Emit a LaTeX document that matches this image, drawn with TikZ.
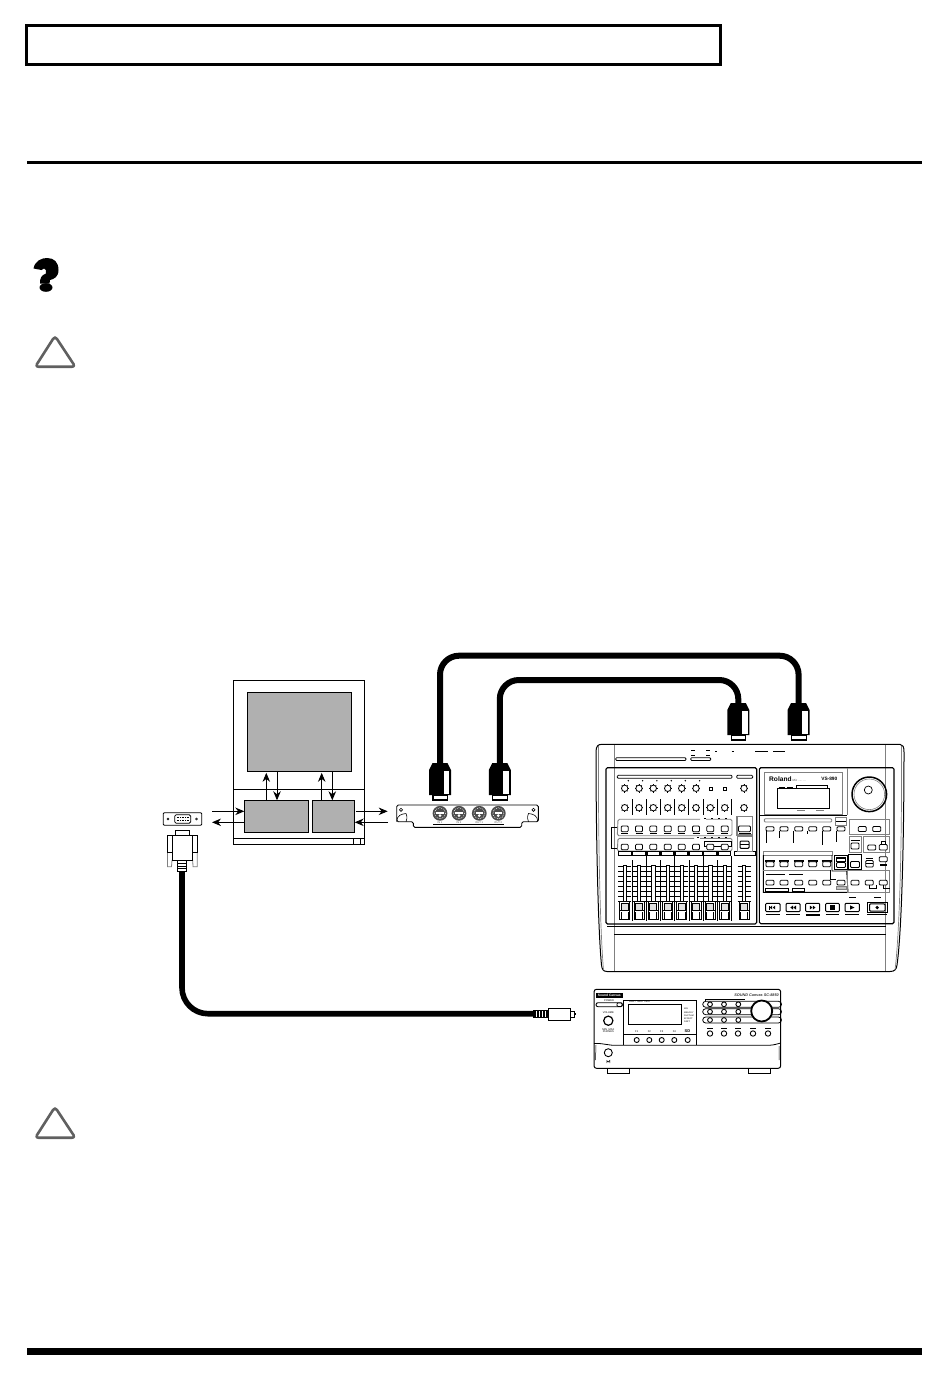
\documentclass[tikz,border=0pt]{standalone}
\usepackage{fontspec}
\setmainfont{Liberation Sans}
\usetikzlibrary{arrows.meta,calc}
\definecolor{panelgray}{HTML}{B0B0B0}
\definecolor{midgray}{HTML}{808080}
\definecolor{warngray}{HTML}{606060}
\newcommand{\tinytxt}[1]{\fontsize{2.6}{3}\selectfont #1}
\tikzset{
 thin line/.style={line width=0.8pt,draw=black},
 hair/.style={line width=0.6pt,draw=black},
 gline/.style={line width=0.9pt,draw=midgray},
 grayblock/.style={draw=black,line width=1.1pt,fill=panelgray,inner sep=0pt,outer sep=0pt},
 flow/.style={line width=0.9pt,draw=black,-{Stealth[length=9pt,width=7.5pt]}},
 cableline/.style={line width=6pt,draw=black,line cap=butt},
 warntri/.style={draw=warngray,line width=2.6pt,line join=round},
 heavy/.style={fill=black,draw=none},
 btn/.style={draw=black,line width=0.8pt,fill=white,rounded corners=1pt},
 plugpic/.pic={
   \coordinate (-top) at (0,0);
   \fill[black] (-7.5,0) -- (7.5,0) -- (11,7) -- (11,32) -- (-11,32) -- (-11,7) -- cycle;
   \fill[white] (3.6,7.5) rectangle (9.4,31);
   \draw[line width=1.2pt,fill=white] (-7,32) rectangle (7.5,37);
 },
 gknob/.pic={
   \draw[line width=0.8pt] (0,0) circle[radius=3.2];
   \foreach \a in {0,45,...,315}{\draw[line width=0.6pt] (\a:3.2) -- (\a:4.2);}
 },
}
\begin{document}
\begin{tikzpicture}[x=1pt,y=-1pt]
\fill[white] (0,0) rectangle (950,1379);
\useasboundingbox (0,0) rectangle (950,1379);

% page furniture
\draw[line width=3pt] (26.5,25.5) rectangle (720.5,64.5);
\fill[black] (27,160.7) rectangle (922,164);
\fill[black] (27,1348) rectangle (922,1355);

% question mark
\fill[black] (33.5,268.5) .. controls (35,260.5) and (42,258) .. (47,258)
  .. controls (54,258) and (58.5,262) .. (58.5,270)
  .. controls (58.5,277) and (54,279) .. (50,280)
  .. controls (49.5,281) and (49.5,282) .. (49.5,283.5) -- (40,283.5)
  .. controls (40,278) and (41,275.5) .. (46,273.5)
  .. controls (46.5,271) and (46,268.5) .. (44,268.5)
  .. controls (42.5,268.5) and (42,269) .. (41.5,270) -- cycle;
\fill[black] (46,287.5) ellipse[x radius=6.5,y radius=4.3];

% warning triangles
\foreach \dy in {0,771}{
  \draw[warntri,yshift=-\dy pt] (55,337.5) .. controls (56,337.5) and (56,338) .. (57,339) -- (73.5,364)
    .. controls (74.5,366) and (74,366.7) .. (72,366.7) -- (38.5,366.7)
    .. controls (36.5,366.7) and (36,366) .. (37,364) -- (53,339) .. controls (54,338) and (54,337.5) .. (55,337.5) -- cycle;
}

% ---- interface block diagram
\node[draw=black,line width=1pt,inner sep=0pt,outer sep=0pt,minimum width=131.4pt,minimum height=164pt] (case) at (299,762.3) {};
\node[grayblock,minimum width=104.4pt,minimum height=79pt] (screen) at (299.5,731.8) {};
\node[grayblock,minimum width=64.4pt,minimum height=32pt] (blockA) at (276.5,816.3) {};
\node[grayblock,minimum width=42.4pt,minimum height=32pt] (blockB) at (333.5,816.3) {};
\draw[line width=1.6pt] (233.3,789.3) -- (364.7,789.3);
\draw[line width=1pt] (233.3,838.3) -- (364.7,838.3);
\draw[line width=1pt] (353.3,838.3) rectangle (360.7,844.3);

\coordinate (u1) at (266.3,0); \coordinate (d1) at (277,0);
\coordinate (u2) at (321.7,0); \coordinate (d2) at (332.3,0);
\draw[flow,shorten >=1.5pt] (blockA.north -| u1) -- (screen.south -| u1);
\draw[flow,shorten <=1pt] (screen.south -| d1) -- (blockA.north -| d1);
\draw[flow,shorten >=1.5pt] (blockB.north -| u2) -- (screen.south -| u2);
\draw[flow,shorten <=1pt] (screen.south -| d2) -- (blockB.north -| d2);

\coordinate (lin) at (212,811.3);  \coordinate (lout) at (212,822.3);
\coordinate (rout) at (387.7,811.3); \coordinate (rin) at (388,822.3);
\draw[flow] (lin) -- (lin -| blockA.west);
\draw[flow] (lout -| blockA.west) -- (lout);
\draw[flow,shorten <=1pt] (rout -| blockB.east) -- (rout);
\draw[flow] (rin) -- (rin -| blockB.east);

% serial plate
\node[draw=black,line width=0.8pt,rounded corners=1pt,fill=white,inner sep=0pt,minimum width=38.4pt,minimum height=12.6pt] (plate) at (182.5,819) {};
\draw[line width=0.8pt,rounded corners=1.5pt,fill=white] (174.7,814.7) rectangle (190.7,823.3);
\foreach \y in {817.3,820.3}{\draw[line width=1pt,dash pattern=on 1pt off .7pt] (176.5,\y) -- (189,\y);}
\draw[line width=.6pt] (168,819) circle[radius=1];
\draw[line width=.6pt] (196.5,819) circle[radius=1];

% DB9 connector
\draw[line width=.8pt,fill=white] (175,830) rectangle (189,836);
\draw[midgray,line width=.8pt] (167.5,852) -- (167.5,866.7) -- (171.5,866.7) -- (172,860);
\draw[midgray,line width=.8pt] (197.3,852) -- (197.3,866.7) -- (193,866.7) -- (192.7,860);
\draw[line width=1pt,fill=white] (167.3,835.3) rectangle (197.3,852.7);
\draw[line width=1pt,fill=white] (172.3,835.3) rectangle (192.7,860.3);
\draw[line width=1pt,fill=white] (177.3,860.3) rectangle (186.3,871.7);
\foreach \y in {863.5,866,868.5}{\draw[line width=.9pt] (177.3,\y) -- (186.3,\y);}
\coordinate (dbout) at (182,871.7);

% serial S-plug
\coordinate (splug) at (533,1013.7);
\fill[black] (533,1009.5) rectangle (548,1018);
\foreach \x in {535.5,538.5,541.5,544.5}{\fill[white] (\x,1010.5) rectangle (\x+.9,1017);}
\draw[line width=.9pt,fill=white] (548,1008) rectangle (570,1020.7);
\draw[line width=.9pt,fill=white] (570,1011) rectangle (574,1017);
\fill[black] (573.5,1013) rectangle (576,1014.6);
\draw[cableline,line width=5.6pt,rounded corners=26pt] (dbout) |- (splug);

% ---- expansion card
\draw[line width=.9pt,fill=white,rounded corners=1.5pt] (396.7,805) -- (538.3,805) -- (538.3,821.7) -- (521.7,821.7) -- (521.7,827.3) -- (413.3,827.3) -- (413.3,821.7) -- (396.7,821.7) -- cycle;
\foreach \x [count=\i] in {440,459,479.3,498.3}{
  \fill[black!70] (\x,813.3) circle[radius=7.4];
  \fill[white] (\x-3.8,811.6) rectangle (\x+3.8,814);
  \fill[white] (\x,815.6) circle[radius=1.5];
  \draw[white,line width=.5pt,dash pattern=on .8pt off 1pt] (\x,813.3) circle[radius=5.6];
}
\foreach \x/\t in {440/IN 1,459/IN 2,479.3/OUT 1,498.3/OUT 2}{
  \node[inner sep=0pt,text=black!70] (cardlab\x) at (\x,822.5) {\tinytxt{\t}};
}
\draw[line width=.7pt] (433,824.7) -- (504,824.7);
\foreach \x/\s in {401/1,533.5/-1}{
  \draw[line width=.6pt] (\x,809.8) circle[radius=1.6];
  \draw[line width=.6pt] (\x-\s*4.3,821.7) .. controls (\x-\s*4.3,815) and (\x+\s*1,814) .. (\x+\s*5,813.5) .. controls (\x+\s*6.5,817) and (\x+\s*6,820) .. (\x+\s*5,821.7);
}

% ---- main mixer
\draw[line width=1pt,fill=white] (596,752) .. controls (596,746) and (598,744.3) .. (602,744.3) -- (900,744.3)
  .. controls (903,744.3) and (904,747) .. (904,752) .. controls (904,830) and (902,930) .. (897,965)
  .. controls (896.5,969) and (895,971.5) .. (890,971.5) -- (607,971.5)
  .. controls (603,971.5) and (602,969) .. (601.5,965) .. controls (598,930) and (596,830) .. (596,752) -- cycle;
\draw[midgray,line width=.7pt] (598.5,746) .. controls (598,830) and (600,930) .. (603.5,970);
\draw[midgray,line width=.7pt] (901.5,746) .. controls (902,830) and (900,930) .. (895,970);
\draw[midgray,line width=1.2pt] (614.3,745) -- (614.3,971);
\draw[midgray,line width=1.2pt] (885.7,745) -- (885.7,971);
\draw[line width=.8pt,fill=white,rounded corners=1pt] (615.7,757.7) rectangle (686,760.5);
\draw[line width=.8pt,fill=white,rounded corners=1pt] (690.7,757.7) rectangle (710.7,760.5);
\foreach \a/\b in {691/695.3,706/710}{
  \draw[line width=.7pt] (\a,750.7) -- (\b,750.7);
  \draw[line width=.7pt] (\a,755) -- (\b,755);
}
\foreach \a/\b in {715/717,731.7/734.3,755/768,773/785}{\draw[line width=.8pt] (\a,751) -- (\b,751);}
\draw[line width=.9pt] (607,926.5) -- (886,926.5);
\draw[line width=.9pt] (614,934) -- (886,934);

% left panel
\draw[line width=1.1pt,rounded corners=1.5pt] (606,767.7) rectangle (756.7,924);
\draw[line width=.8pt,rounded corners=1pt] (617.3,775.3) rectangle (732,778.3);
\draw[line width=.8pt,rounded corners=1pt] (736.7,775.3) rectangle (752.7,778.3);
\foreach \x in {624.7,639,653.3,667.7,681.7,696}{
  \pic at (\x,788.3) {gknob};
  \fill[black] (\x+3.6,780.7) circle[radius=.8];
}
\foreach \x in {710.7,724.7}{\draw[line width=.8pt] (\x-1.5,787.2) rectangle (\x+1.5,790.2);}
\pic at (744,788.3) {gknob};
\pic at (744,807.7) {gknob};
\foreach \x in {624.7,639,653.3,667.7,681.7,696,710.3,724.7}{\pic at (\x,807.7) {gknob};}
\foreach \x in {632,646.3,660.3,674.7,688.7,703,717.3,731.7}{\draw[line width=.7pt] (\x,799) -- (\x,815);}
% channel button groups
\draw[gline,rounded corners=1.5pt] (700,819.2) -- (618,819.2) -- (617.3,835.7) -- (732,835.7) -- (732,819.2) -- (706,819.2);
\foreach \x in {704,711,718,725}{\fill[black] (\x,818) rectangle (\x+1.8,819.3);}
\draw[gline,rounded corners=1.5pt] (694,838.3) -- (618,838.3) -- (617.3,851) -- (732,851) -- (732,838.3) -- (700,838.3);
\foreach \x in {697,704,711,718,725}{\fill[black] (\x,837) rectangle (\x+1.8,838.3);}
\draw[line width=.8pt] (617.3,827.7) -- (611,827.7) -- (611,848.3) -- (617.3,848.3);
\draw[line width=.9pt] (704.3,841) rectangle (731.7,846.7);
\foreach \x in {624.7,639,653.3,667.7,681.7,696,710.3,724.7}{
  \draw[btn] (\x-3.5,826) rectangle (\x+3.5,831.7);
  \draw[btn] (\x-3.5,844.3) rectangle (\x+3.5,849.7);
  \draw[line width=.9pt] (\x-3.5,833.8) -- (\x+3.5,833.8);
}
\draw[line width=.9pt,fill=white] (618.3,851.7) rectangle (730.7,855.7);
\foreach \x in {632,646.3,660.3,674.7,688.7,703,717.3}{\fill[black] (\x-1.4,851.7) rectangle (\x+1.4,855);}
\draw[line width=.9pt,fill=white] (734.3,851.7) rectangle (755,855.7);
% master buttons
\draw[midgray,line width=1.2pt] (737,816.7) rectangle (752.3,835);
\draw[midgray,line width=1pt] (737,836.7) rectangle (752.3,851.7);
\draw[btn] (738.5,826) rectangle (750.5,831.7);
\draw[line width=.9pt] (738.5,833.8) -- (750.5,833.8);
\draw[btn,line width=1pt] (740,841) rectangle (749,848.3);
\draw[line width=.9pt] (740,844.6) -- (749,844.6);
% faders
\foreach \x in {646.3,674.7,703,731.7}{\draw[line width=.8pt] (\x,856) -- (\x,921);}
\foreach \x in {632,660.3,688.7,717.3}{\draw[line width=.4pt] (\x,860) -- (\x,921);}
\foreach \x in {624.7,639,653.3,667.7,681.7,696,710.3,724.7,744}{
  \foreach \y in {866.5,871.5,876.5,881.5,886.5,891.5,896.5,901.5}{\draw[line width=.4pt] (\x-6.5,\y) -- (\x+6.5,\y);}
  \draw[line width=.7pt,fill=white] (\x-1.8,865) rectangle (\x+1.8,902);
  \draw[line width=.9pt,fill=white] (\x-5,901.7) rectangle (\x+5,919);
  \draw[line width=.9pt,fill=black!12] (\x-3.5,903.5) rectangle (\x+3.5,910);
  \draw[line width=1pt] (\x-5.5,910.7) -- (\x+5.5,910.7);
  \draw[line width=.7pt] (\x-3.5,912) -- (\x-3.5,919);
  \draw[line width=.7pt] (\x+3.5,912) -- (\x+3.5,919);
}

% right panel
\draw[line width=1.1pt,rounded corners=1.5pt] (759.3,767.7) rectangle (894,923.7);
\draw[midgray,line width=1pt] (764,772.3) rectangle (842.3,814.3);
\draw[midgray,line width=.9pt] (847.3,768) -- (847.3,815);
\draw[line width=.8pt] (760,815) -- (847.3,815);
\node[inner sep=0pt,anchor=west] (brand) at (769,779.5) {\fontsize{6.6}{7}\selectfont\bfseries Roland};
\node[inner sep=0pt,anchor=west,text=black!70] (subbrand) at (792.5,780) {\fontsize{3}{3}\selectfont Mic ..... ...};
\node[inner sep=0pt,anchor=east] (model) at (837.5,779) {\fontsize{4.8}{5}\selectfont\bfseries VS-890};
\draw[line width=1pt,fill=white] (777.3,788.3) rectangle (829.3,808.3);
\draw[line width=.8pt] (796.7,788.3) -- (796.7,785) -- (827.3,785) -- (827.3,788.3);
\draw[line width=.8pt] (778.5,787.3) -- (785,787.3) (787,787.3) -- (793,787.3);
\draw[midgray,line width=.5pt] (797,810.5) -- (805,810.5) (816,810.5) -- (824,810.5);
% jog wheel
\draw[line width=1.5pt] (869.3,794.3) circle[radius=17.3];
\draw[midgray,line width=.6pt] (869.3,794.3) circle[radius=15.3];
\draw[line width=.7pt] (868.3,790) circle[radius=4];
% button row 1
\draw[midgray,line width=.9pt,rounded corners=1pt] (764.3,818.7) rectangle (831.7,822);
\foreach \x in {770,784,798.7,812.7,826.7,841}{\draw[btn] (\x-4,826.7) rectangle (\x+4,831);}
\foreach \x/\e in {766/843.3,779.3/838.3,793.3/843.3,807.3/834.3,822.3/845,836.3/841.7}{\draw[line width=.6pt] (\x,831) -- (\x,\e);}
\draw[midgray,line width=1pt] (835,817.7) rectangle (846.7,825);
\draw[line width=.8pt] (835.5,821.3) -- (846.2,821.3);
\draw[gline] (849,819) rectangle (889.3,834);
\foreach \x in {862.3,876.7}{\draw[btn] (\x-4,826.5) rectangle (\x+4,831.5);}
\draw[gline] (849,836.7) rectangle (861,852.3);
\draw[line width=.8pt] (850.5,840) -- (859.5,840);
\draw[btn] (851,843) rectangle (859,849);
\draw[gline] (863.3,836.7) rectangle (889.3,852.3);
\draw[btn] (867.7,845) rectangle (875.7,850);
\draw[btn] (879.3,844.5) rectangle (887.3,850);
\draw[line width=.7pt] (881,844.5) -- (881,841) -- (885.5,841) -- (885.5,844.5);
% middle section
\draw[gline] (763.3,851) -- (832,851) -- (832,855) -- (763.3,855) -- cycle;
\draw[line width=.9pt] (763.3,855) -- (763.3,892.3) -- (848,892.3) -- (846.7,871) -- (832,871) -- (832,855);
\draw[gline] (763.3,870) -- (830,870);
\draw[line width=.6pt] (830,870) -- (830,879) -- (836,879);
\foreach \x in {770,784,798.7,812.7,826.7}{
  \draw[line width=1.4pt] (\x-5,860.8) -- (\x+5,860.8);
  \draw[btn] (\x-4,861.7) rectangle (\x+4,866.7);
}
\foreach \x in {770,784,798.7,812.7,826.7,841}{\draw[btn] (\x-4,880.3) rectangle (\x+4,885);}
\draw[line width=.7pt] (766,874.3) -- (785,874.3) (789.3,874.3) -- (803.3,874.3);
\draw[line width=1pt] (834.3,855) rectangle (847.3,869);
\draw[line width=1.2pt,fill=white] (836.5,858) rectangle (845.5,861.5);
\draw[btn] (836.5,862.5) rectangle (845.5,867.5);
\draw[line width=1pt] (848.3,854.3) rectangle (861.7,869);
\draw[btn] (850.5,861.5) rectangle (859.5,867.5);
\draw[line width=.9pt] (865.7,858.5) -- (873.3,858.5);
\draw[btn] (865.7,860.5) rectangle (873.3,867);
\draw[line width=.7pt] (865.7,863.7) -- (873.3,863.7);
\draw[btn] (879.3,856.7) rectangle (887.3,861.7);
\fill[black] (880,864.3) rectangle (887,865.7);
\draw[gline] (847.7,870.7) rectangle (889.3,892.3);
\foreach \x in {855,869.3,883.3}{\draw[btn] (\x-4,880.3) rectangle (\x+4,885);}
\draw[line width=.6pt] (869,885) -- (869,888.5) -- (876,888.5) -- (876,885);
\draw[line width=.6pt] (883,885) -- (883,888.5) -- (890,888.5);
\draw[line width=.8pt,fill=white] (765,888.7) rectangle (788.3,891.7);
\draw[line width=.8pt,fill=white] (792.3,888.7) rectangle (804,891.7);
\draw[midgray,line width=.7pt,fill=black!25] (836,886) rectangle (846,889);
% transport
\foreach \a/\b in {849.3/856,874/880.7}{\draw[line width=1pt] (\a,897.7) -- (\b,897.7);}
\foreach \a/\b in {765.7/780,786/800,805.7/819.7,825.7/839.3,845/859.3}{
  \draw[line width=1pt,fill=white,rounded corners=1pt] (\a,903.3) rectangle (\b,911.7);
  \draw[line width=1pt] (\a,914.3) -- (\b,914.3);
}
\draw[line width=1pt] (867.3,902.5) rectangle (887.3,912.5);
\draw[line width=1pt,fill=white,rounded corners=1pt] (869.5,903.8) rectangle (885,911.2);
\draw[line width=1pt] (867.3,914.3) -- (887.3,914.3);
\fill[black] (772.2,905.5) -- (769.8,907.5) -- (772.2,909.5) -- cycle;
\fill[black] (775.2,905.5) -- (772.8,907.5) -- (775.2,909.5) -- cycle;
\fill[black] (768.8,905.5) rectangle (769.5,909.5);
\fill[black] (793,905.5) -- (790.3,907.5) -- (793,909.5) -- cycle;
\fill[black] (796,905.5) -- (793.3,907.5) -- (796,909.5) -- cycle;
\fill[black] (809.8,905.5) -- (812.5,907.5) -- (809.8,909.5) -- cycle;
\fill[black] (812.8,905.5) -- (815.5,907.5) -- (812.8,909.5) -- cycle;
\fill[black] (830.3,905.3) rectangle (834.7,909.7);
\fill[black] (850,905.3) -- (854.5,907.5) -- (850,909.7) -- cycle;
\fill[black] (877.2,907.5) circle[radius=1.8];
\fill[black] (806,915) rectangle (820,915.8);

% ---- sound module
\draw[line width=1pt,fill=white,rounded corners=2.5pt] (594,989.3) rectangle (780.7,1068.3);
\draw[line width=.8pt,fill=white] (607.3,1068.3) rectangle (629.7,1073);
\draw[line width=.8pt,fill=white] (748.7,1068.3) rectangle (770.7,1073);
\draw[line width=.8pt] (594,1043.5) .. controls (600,1043) and (602,1044) .. (612,1045.2) -- (770,1045.2) .. controls (774,1045) and (777,1044) .. (780.7,1043);
\draw[line width=.5pt] (595.5,1060) -- (596,1045) (779,1060) -- (779,1046);
\fill[black] (596,992.7) rectangle (622.7,997.7);
\node[inner sep=0pt,text=white] (sclogo) at (609.3,995.2) {\fontsize{3.3}{3.5}\selectfont\bfseries Sound Canvas};
\node[inner sep=0pt] (powerlab) at (609,1000.7) {\tinytxt{POWER}};
\draw[line width=.9pt,rounded corners=2pt] (596,1002.7) rectangle (622.5,1006.7);
\draw[line width=.8pt,fill=white,rounded corners=1pt] (617,1002.9) rectangle (622,1006.5);
\node[inner sep=0pt] (vollab) at (608.3,1012.7) {\tinytxt{VOLUME}};
\draw[line width=1.2pt] (608.3,1020.7) circle[radius=4.6];
\node[inner sep=0pt] (vollab2) at (608.3,1029.5) {\tinytxt{MIN\,\, MAX}};
\node[inner sep=0pt] (vollab3) at (608.3,1032) {\tinytxt{PHONES}};
\draw[line width=.8pt] (628.3,1004) rectangle (681.7,1024);
\node[inner sep=0pt,anchor=west] (lcdlab) at (629,1001.5) {\tinytxt{PART\,\, MIDI\,\, INST}};
\draw[line width=.6pt] (623.3,1000) -- (696.7,1000) (623.3,1000) -- (623.3,1045);
\draw[line width=.5pt] (696.7,1000) -- (696.7,1045);
\draw[line width=.6pt] (623.3,1034) -- (696.7,1034);
\foreach \x/\t in {636.7/F1,649.3/F2,661.7/F3,674.3/F4}{\node[inner sep=0pt] (fk\t) at (\x,1032) {\tinytxt{\t}};}
\foreach \y/\t in {1009/MIX,1013/MELODY,1016/RHYTHM,1019/EFFECT,1022/PART}{\node[inner sep=0pt,anchor=west] (st\y) at (684,\y) {\fontsize{2.2}{2.4}\selectfont \t};}
\node[inner sep=0pt] (sd) at (687.5,1031) {\fontsize{4}{4}\selectfont\bfseries SD};
\foreach \x in {636.7,649.3,661.7,674.3,687.7}{\draw[line width=.9pt] (\x,1040) circle[radius=2.5];}
\draw[line width=.9pt] (608.3,1052.7) circle[radius=4];
\draw[line width=.5pt] (606.8,1063) -- (606.8,1060.5) arc[start angle=180,end angle=0,radius=1.5] -- (609.8,1063);
\node[inner sep=0pt,anchor=east,text=black!80] (scname) at (779,995) {\fontsize{3.8}{4}\selectfont\itshape\bfseries SOUND Canvas SC-8850};
\foreach \y in {1004.3,1011.7,1020}{\draw[line width=.8pt,rounded corners=3pt] (702.7,\y-3) rectangle (781.5,\y+3);}
\foreach \x in {710,724,738.3}{\foreach \y in {1004.3,1011.7,1020}{\draw[line width=.9pt,fill=white] (\x,\y) circle[radius=2.4];}}
\draw[line width=.6pt] (705,1001) -- (705,999) -- (730,999) (725,999) -- (745,999);
\draw[line width=1.8pt,fill=white] (761.7,1011) circle[radius=10.5];
\foreach \x in {710,724,738,753,768}{
  \draw[line width=.9pt] (\x,1033.5) circle[radius=2.7];
  \draw[line width=.6pt] (\x-3,1028.5) -- (\x+3,1028.5);
}

% ---- connectors
\pic (pa) at (440,763) {plugpic};
\pic (pb) at (499.8,763) {plugpic};
\pic (pc) at (738.3,703) {plugpic};
\pic (pd) at (798.6,703) {plugpic};
\coordinate (run1) at (600,655.7);
\coordinate (run2) at (600,680);
\draw[cableline,rounded corners=19pt] (pa-top) |- (run1) -| (pd-top);
\draw[cableline,rounded corners=19pt] (pb-top) |- (run2) -| (pc-top);
\end{tikzpicture}
\end{document}
